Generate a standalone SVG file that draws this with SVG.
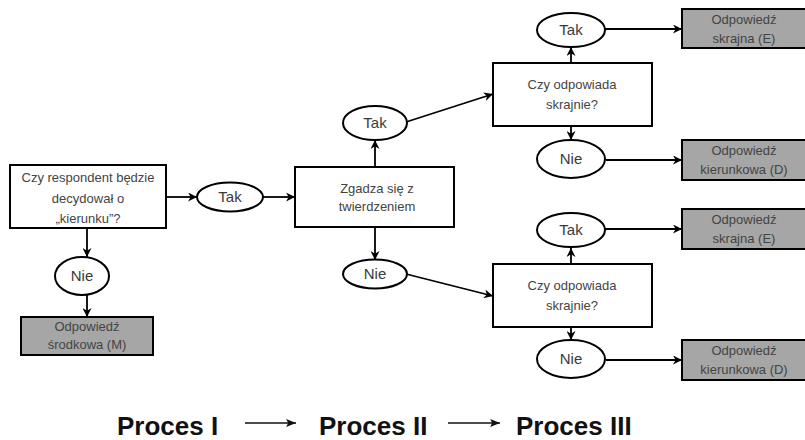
<svg xmlns="http://www.w3.org/2000/svg" width="805" height="440" viewBox="0 0 805 440">
<style>
.box{fill:#fff;stroke:#000;stroke-width:2}
.res{fill:#a6a6a6;stroke:#000;stroke-width:2}
.ell{fill:#fff;stroke:#000;stroke-width:2}
.t{font-family:"Liberation Sans",Arial,sans-serif;font-size:13px;fill:#444;text-anchor:middle}
.e{font-family:"Liberation Sans",Arial,sans-serif;font-size:15px;fill:#3a3a3a;text-anchor:middle}
.c{stroke:#000;stroke-width:1.8;fill:none;marker-end:url(#ah)}
.p{font-family:"Liberation Sans",Arial,sans-serif;font-size:26px;font-weight:bold;fill:#111}
</style>
<defs>
<marker id="ah" viewBox="0 0 10 10" refX="10" refY="5" markerWidth="5" markerHeight="5" orient="auto" markerUnits="strokeWidth">
<path d="M0,0 L10,5 L0,10 L3,5 z" fill="#000"/>
</marker>
<marker id="ah2" viewBox="0 0 10 10" refX="10" refY="5" markerWidth="7" markerHeight="7" orient="auto" markerUnits="strokeWidth">
<path d="M0,1 L10,5 L0,9 L2,5 z" fill="#111"/>
</marker>
</defs>

<g id="connectors">
<line class="c" x1="166" y1="197" x2="197" y2="197"/>
<line class="c" x1="263" y1="197" x2="295" y2="197"/>
<line class="c" x1="87" y1="228" x2="87" y2="257"/>
<line class="c" x1="87" y1="295" x2="87" y2="317"/>
<line class="c" x1="375" y1="167" x2="375" y2="140"/>
<line class="c" x1="375" y1="227" x2="375" y2="260"/>
<line class="c" x1="406" y1="122" x2="493" y2="94"/>
<line class="c" x1="406" y1="274" x2="493" y2="296"/>
<line class="c" x1="571" y1="63" x2="571" y2="47"/>
<line class="c" x1="571" y1="126" x2="571" y2="140"/>
<line class="c" x1="605" y1="29" x2="682" y2="29"/>
<line class="c" x1="606" y1="160" x2="682" y2="160"/>
<line class="c" x1="571" y1="264" x2="571" y2="248"/>
<line class="c" x1="571" y1="327" x2="571" y2="340"/>
<line class="c" x1="605" y1="229" x2="682" y2="229"/>
<line class="c" x1="606" y1="360" x2="682" y2="360"/>
</g>

<g id="q1">
<rect class="box" x="10" y="165" width="156" height="63"/>
<text class="t" x="88" y="182">Czy respondent będzie</text>
<text class="t" x="88" y="203">decydował o</text>
<text class="t" x="88" y="223">„kierunku”?</text>
</g>
<g id="tak1">
<ellipse class="ell" cx="230" cy="197" rx="33" ry="14.5"/>
<text class="e" x="230" y="202">Tak</text>
</g>
<g id="nie1">
<ellipse class="ell" cx="82" cy="276" rx="27" ry="19"/>
<text class="e" x="82" y="281">Nie</text>
</g>
<g id="resM">
<rect class="res" x="21" y="317" width="132" height="38"/>
<text class="t" x="87" y="331">Odpowiedź</text>
<text class="t" x="87" y="349">środkowa (M)</text>
</g>
<g id="q2">
<rect class="box" x="295" y="167" width="159" height="60"/>
<text class="t" x="377" y="193">Zgadza się z</text>
<text class="t" x="377" y="211">twierdzeniem</text>
</g>
<g id="tak2">
<ellipse class="ell" cx="375" cy="123" rx="32" ry="17"/>
<text class="e" x="375" y="128">Tak</text>
</g>
<g id="nie2">
<ellipse class="ell" cx="375" cy="274" rx="32" ry="14.5"/>
<text class="e" x="375" y="279">Nie</text>
</g>
<g id="q3">
<rect class="box" x="493" y="63" width="159" height="63"/>
<text class="t" x="572" y="89">Czy odpowiada</text>
<text class="t" x="572" y="109">skrajnie?</text>
</g>
<g id="tak3">
<ellipse class="ell" cx="571" cy="30" rx="34" ry="17"/>
<text class="e" x="571" y="35">Tak</text>
</g>
<g id="nie3">
<ellipse class="ell" cx="571" cy="159" rx="34" ry="19"/>
<text class="e" x="571" y="164">Nie</text>
</g>
<g id="resE1">
<rect class="res" x="682" y="9" width="125" height="39"/>
<text class="t" x="744" y="24">Odpowiedź</text>
<text class="t" x="744" y="43">skrajna (E)</text>
</g>
<g id="resD1">
<rect class="res" x="682" y="140" width="125" height="40"/>
<text class="t" x="744" y="155">Odpowiedź</text>
<text class="t" x="744" y="174">kierunkowa (D)</text>
</g>
<g id="q4">
<rect class="box" x="493" y="264" width="159" height="63"/>
<text class="t" x="572" y="290">Czy odpowiada</text>
<text class="t" x="572" y="310">skrajnie?</text>
</g>
<g id="tak4">
<ellipse class="ell" cx="571" cy="230" rx="34" ry="17"/>
<text class="e" x="571" y="235">Tak</text>
</g>
<g id="nie4">
<ellipse class="ell" cx="571" cy="359" rx="34" ry="19"/>
<text class="e" x="571" y="364">Nie</text>
</g>
<g id="resE2">
<rect class="res" x="682" y="209" width="125" height="40"/>
<text class="t" x="744" y="224">Odpowiedź</text>
<text class="t" x="744" y="243">skrajna (E)</text>
</g>
<g id="resD2">
<rect class="res" x="682" y="340" width="125" height="40"/>
<text class="t" x="744" y="355">Odpowiedź</text>
<text class="t" x="744" y="374">kierunkowa (D)</text>
</g>

<g id="legend">
<text class="p" x="117" y="435">Proces I</text>
<text class="p" x="319" y="435">Proces II</text>
<text class="p" x="516" y="435">Proces III</text>
<line x1="245" y1="423" x2="296" y2="423" stroke="#111" stroke-width="1.4" marker-end="url(#ah2)"/>
<line x1="448" y1="423" x2="500" y2="423" stroke="#111" stroke-width="1.4" marker-end="url(#ah2)"/>
</g>
</svg>
